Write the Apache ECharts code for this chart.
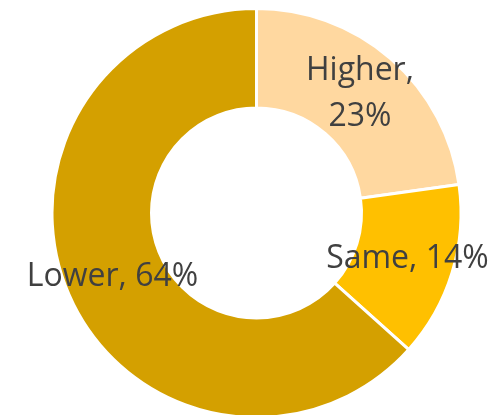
<!DOCTYPE html>
<html>
<head>
<meta charset="utf-8">
<script src="https://cdn.jsdelivr.net/npm/echarts@6/dist/echarts.min.js"></script>
<style>html,body{margin:0;padding:0;background:#fff}#c{width:503px;height:415px}</style>
</head>
<body>
<div id="c"></div>
<script>
const categories = ['Higher', 'Same', 'Lower'];
const values = [23, 14, 64];
const labelTexts = ['Higher,\n23%', 'Same, 14%', 'Lower, 64%'];
const colors = ['#FFD8A0', '#FFC000', '#D4A000'];

const chart = echarts.init(document.getElementById('c'), null, {renderer: 'canvas'});
chart.setOption({
  animation: false,
  series: [{
    type: 'pie',
    center: [256.5, 213],
    radius: [105, 204.5],
    startAngle: 90,
    clockwise: true,
    avoidLabelOverlap: false,
    itemStyle: {borderColor: '#fff', borderWidth: 3},
    label: {
      show: true,
      position: 'inside',
      color: '#404040',
      fontFamily: 'Open Sans',
      fontSize: 32,
      lineHeight: 46,
      formatter: p => labelTexts[p.dataIndex]
    },
    labelLine: {show: false},
    emphasis: {disabled: true},
    data: categories.map((c, i) => ({name: c, value: values[i], itemStyle: {color: colors[i]}}))
  }]
});
</script>
</body>
</html>
